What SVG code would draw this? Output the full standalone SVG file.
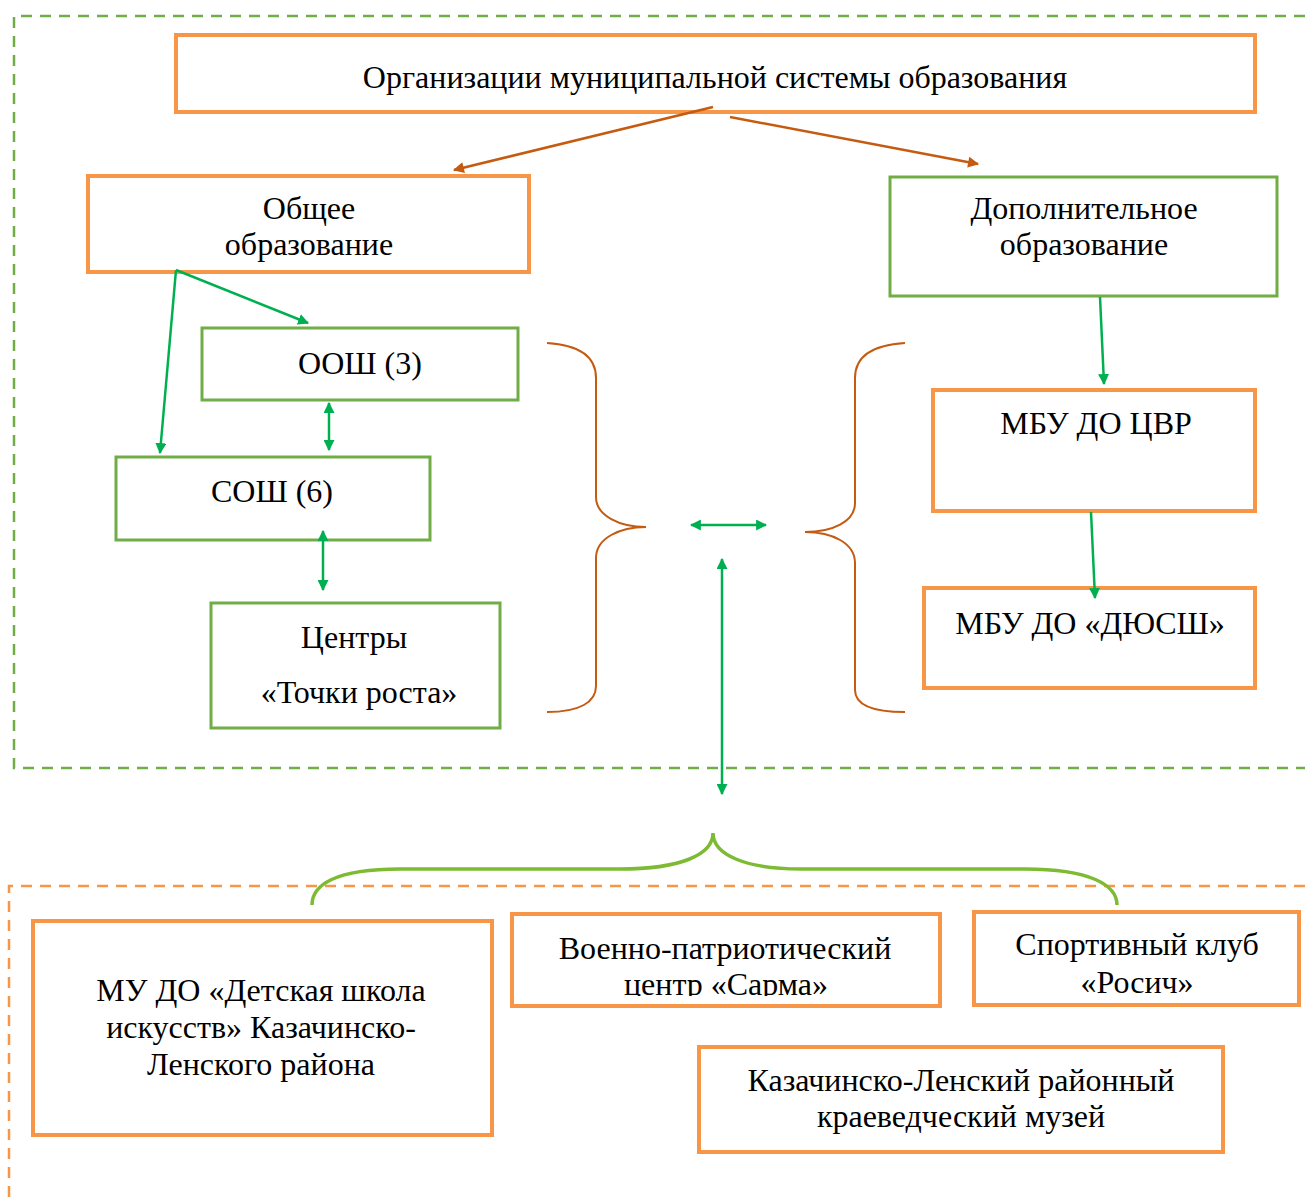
<svg xmlns="http://www.w3.org/2000/svg" width="1305" height="1198" viewBox="0 0 1305 1198">
<defs>
<style>
.t{font-family:"Liberation Serif","Times New Roman",serif;font-size:32px;fill:#000;text-anchor:middle}
.bo{fill:#fff;stroke:#F79646;stroke-width:4}
.bg{fill:#fff;stroke:#70AD47;stroke-width:3}
.ao{stroke:#C55A11;stroke-width:2.5;fill:none}
.ag{stroke:#00B050;stroke-width:2.5;fill:none}
.br{stroke:#C55A11;stroke-width:2;fill:none}
</style>
<marker id="mo" viewBox="0 0 10 10" refX="9" refY="5" markerWidth="13" markerHeight="11" markerUnits="userSpaceOnUse" orient="auto-start-reverse"><path d="M0,0 L10,5 L0,10 z" fill="#C55A11"/></marker>
<marker id="mg" viewBox="0 0 10 10" refX="9" refY="5" markerWidth="11" markerHeight="11" markerUnits="userSpaceOnUse" orient="auto-start-reverse"><path d="M0,0 L10,5 L0,10 z" fill="#00B050"/></marker>
<clipPath id="clipS"><rect x="514" y="916" width="424" height="80"/></clipPath>
</defs>
<rect width="1305" height="1198" fill="#fff"/>
<g id="frames">
<path d="M1305,16 H14 V768 H1305" fill="none" stroke="#70AD47" stroke-width="2.5" stroke-dasharray="11,8"/>
<path d="M1305,886 H9 V1198" fill="none" stroke="#F79646" stroke-width="2.5" stroke-dasharray="11,8"/>
</g>
<g id="n-top"><rect class="bo" x="176" y="35" width="1079" height="77"/><text class="t" x="715" y="88">Организации муниципальной системы образования</text></g>
<g id="n-general"><rect class="bo" x="88" y="176" width="441" height="96"/><text class="t" x="309" y="219">Общее</text><text class="t" x="309" y="255">образование</text></g>
<g id="n-additional"><rect class="bg" x="890" y="177" width="387" height="119"/><text class="t" x="1084" y="219">Дополнительное</text><text class="t" x="1084" y="255">образование</text></g>
<g id="n-oosh"><rect class="bg" x="202" y="328" width="316" height="72"/><text class="t" x="360" y="374">ООШ (3)</text></g>
<g id="n-sosh"><rect class="bg" x="116" y="457" width="314" height="83"/><text class="t" x="272" y="502">СОШ (6)</text></g>
<g id="n-tochki"><rect class="bg" x="211" y="603" width="289" height="125"/><text class="t" x="354" y="648">Центры</text><text class="t" x="359" y="703">«Точки роста»</text></g>
<g id="n-cvr"><rect class="bo" x="933" y="390" width="322" height="121"/><text class="t" x="1096" y="434">МБУ ДО ЦВР</text></g>
<g id="n-dyussh"><rect class="bo" x="924" y="588" width="331" height="100"/><text class="t" x="1090" y="634">МБУ ДО «ДЮСШ»</text></g>
<g id="n-dshi"><rect class="bo" x="33" y="921" width="459" height="214"/><text class="t" x="261" y="1001">МУ ДО «Детская школа</text><text class="t" x="261" y="1038">искусств» Казачинско-</text><text class="t" x="261" y="1075">Ленского района</text></g>
<g id="n-sarma"><rect class="bo" x="512" y="914" width="428" height="92"/><g clip-path="url(#clipS)"><text class="t" x="725" y="959">Военно-патриотический</text><text class="t" x="726" y="995">центр «Сарма»</text></g></g>
<g id="n-rosich"><rect class="bo" x="974" y="912" width="325" height="93"/><text class="t" x="1137" y="955">Спортивный клуб</text><text class="t" x="1137" y="993">«Росич»</text></g>
<g id="n-museum"><rect class="bo" x="699" y="1047" width="524" height="105"/><text class="t" x="961" y="1091">Казачинско-Ленский районный</text><text class="t" x="961" y="1127">краеведческий музей</text></g>
<g id="connectors">
<line class="ao" x1="713" y1="107" x2="454" y2="170" marker-end="url(#mo)"/>
<line class="ao" x1="730" y1="117" x2="978" y2="164" marker-end="url(#mo)"/>
<line class="ag" x1="176" y1="270" x2="308" y2="323" marker-end="url(#mg)"/>
<line class="ag" x1="176" y1="270" x2="160" y2="453" marker-end="url(#mg)"/>
<line class="ag" x1="329" y1="403" x2="329" y2="450" marker-start="url(#mg)" marker-end="url(#mg)"/>
<line class="ag" x1="323" y1="531" x2="323" y2="590" marker-start="url(#mg)" marker-end="url(#mg)"/>
<line class="ag" x1="691" y1="525" x2="766" y2="525" marker-start="url(#mg)" marker-end="url(#mg)"/>
<line class="ag" x1="722" y1="559" x2="722" y2="794" marker-start="url(#mg)" marker-end="url(#mg)"/>
<line class="ag" x1="1100" y1="297" x2="1104" y2="384" marker-end="url(#mg)"/>
<line class="ag" x1="1091" y1="512" x2="1095" y2="598" marker-end="url(#mg)"/>
<path class="br" d="M547,343 C580,345 596,357 596,378 V497 C596,516 620,527 646,527 C620,527 596,538 596,558 V686 C596,702 580,712 547,712"/>
<path class="br" d="M905,343 C872,345 855,357 855,378 V503 C855,522 832,532 805,532 C832,532 855,543 855,563 V690 C855,705 872,712 905,712"/>
<path d="M312,905 C312,885 335,869 400,869 H620 C680,869 713,855 713,833 C713,855 746,869 801,869 H1025 C1090,869 1117,885 1117,905" fill="none" stroke="#7CBB32" stroke-width="3.5"/>
</g>
</svg>
